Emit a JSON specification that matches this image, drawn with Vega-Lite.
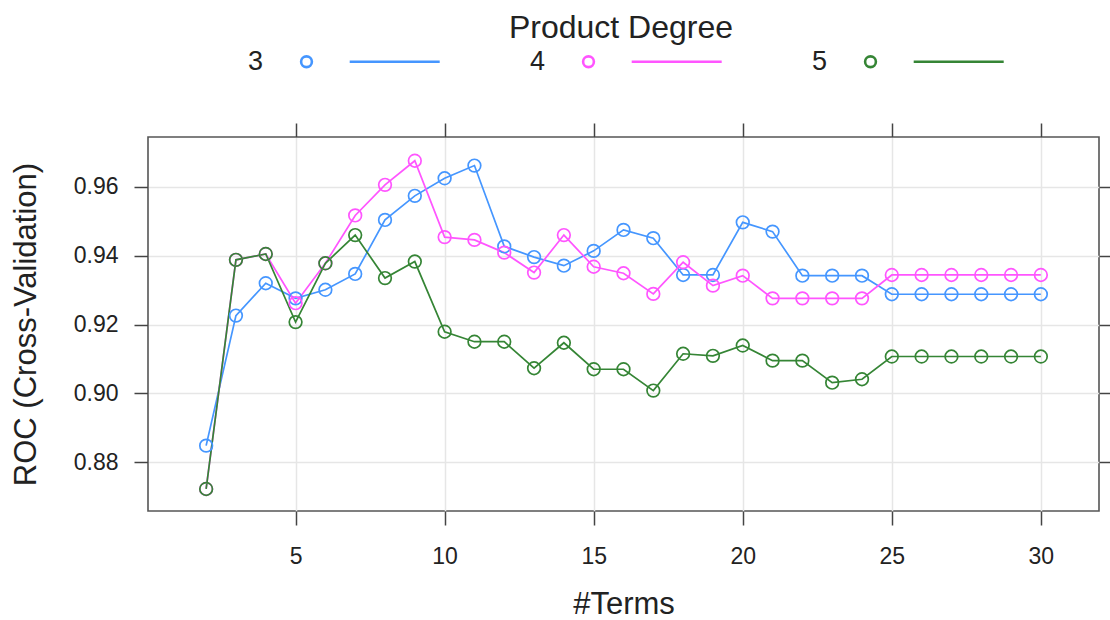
{
  "$schema": "https://vega.github.io/schema/vega-lite/v6.json",
  "width": 951,
  "height": 374,
  "autosize": {"type": "none"},
  "padding": {"left": 148, "top": 137, "right": 11, "bottom": 109},
  "background": "white",
  "config": {
    "view": {"stroke": "#555555", "strokeWidth": 1.6},
    "font": "Liberation Sans",
    "axis": {"labelColor": "#222222", "titleColor": "#222222", "titleFontWeight": "normal"},
    "legend": {"labelColor": "#222222", "titleColor": "#222222"}
  },
  "data": {
    "values": [
      {"terms": 2, "degree": "3", "roc": 0.8848},
      {"terms": 3, "degree": "3", "roc": 0.9226},
      {"terms": 4, "degree": "3", "roc": 0.9320},
      {"terms": 5, "degree": "3", "roc": 0.9276},
      {"terms": 6, "degree": "3", "roc": 0.9301},
      {"terms": 7, "degree": "3", "roc": 0.9347},
      {"terms": 8, "degree": "3", "roc": 0.9504},
      {"terms": 9, "degree": "3", "roc": 0.9574},
      {"terms": 10, "degree": "3", "roc": 0.9625},
      {"terms": 11, "degree": "3", "roc": 0.9662},
      {"terms": 12, "degree": "3", "roc": 0.9427},
      {"terms": 13, "degree": "3", "roc": 0.9396},
      {"terms": 14, "degree": "3", "roc": 0.9371},
      {"terms": 15, "degree": "3", "roc": 0.9414},
      {"terms": 16, "degree": "3", "roc": 0.9475},
      {"terms": 17, "degree": "3", "roc": 0.9451},
      {"terms": 18, "degree": "3", "roc": 0.9344},
      {"terms": 19, "degree": "3", "roc": 0.9344},
      {"terms": 20, "degree": "3", "roc": 0.9497},
      {"terms": 21, "degree": "3", "roc": 0.9470},
      {"terms": 22, "degree": "3", "roc": 0.9342},
      {"terms": 23, "degree": "3", "roc": 0.9342},
      {"terms": 24, "degree": "3", "roc": 0.9342},
      {"terms": 25, "degree": "3", "roc": 0.9288},
      {"terms": 26, "degree": "3", "roc": 0.9288},
      {"terms": 27, "degree": "3", "roc": 0.9288},
      {"terms": 28, "degree": "3", "roc": 0.9288},
      {"terms": 29, "degree": "3", "roc": 0.9288},
      {"terms": 30, "degree": "3", "roc": 0.9288},
      {"terms": 2, "degree": "4", "roc": 0.8722},
      {"terms": 3, "degree": "4", "roc": 0.9388},
      {"terms": 4, "degree": "4", "roc": 0.9405},
      {"terms": 5, "degree": "4", "roc": 0.9262},
      {"terms": 6, "degree": "4", "roc": 0.9378},
      {"terms": 7, "degree": "4", "roc": 0.9517},
      {"terms": 8, "degree": "4", "roc": 0.9606},
      {"terms": 9, "degree": "4", "roc": 0.9676},
      {"terms": 10, "degree": "4", "roc": 0.9454},
      {"terms": 11, "degree": "4", "roc": 0.9446},
      {"terms": 12, "degree": "4", "roc": 0.9409},
      {"terms": 13, "degree": "4", "roc": 0.9351},
      {"terms": 14, "degree": "4", "roc": 0.9460},
      {"terms": 15, "degree": "4", "roc": 0.9368},
      {"terms": 16, "degree": "4", "roc": 0.9349},
      {"terms": 17, "degree": "4", "roc": 0.9289},
      {"terms": 18, "degree": "4", "roc": 0.9381},
      {"terms": 19, "degree": "4", "roc": 0.9313},
      {"terms": 20, "degree": "4", "roc": 0.9342},
      {"terms": 21, "degree": "4", "roc": 0.9276},
      {"terms": 22, "degree": "4", "roc": 0.9276},
      {"terms": 23, "degree": "4", "roc": 0.9276},
      {"terms": 24, "degree": "4", "roc": 0.9276},
      {"terms": 25, "degree": "4", "roc": 0.9344},
      {"terms": 26, "degree": "4", "roc": 0.9344},
      {"terms": 27, "degree": "4", "roc": 0.9344},
      {"terms": 28, "degree": "4", "roc": 0.9344},
      {"terms": 29, "degree": "4", "roc": 0.9344},
      {"terms": 30, "degree": "4", "roc": 0.9344},
      {"terms": 2, "degree": "5", "roc": 0.8722},
      {"terms": 3, "degree": "5", "roc": 0.9388},
      {"terms": 4, "degree": "5", "roc": 0.9405},
      {"terms": 5, "degree": "5", "roc": 0.9207},
      {"terms": 6, "degree": "5", "roc": 0.9378},
      {"terms": 7, "degree": "5", "roc": 0.9460},
      {"terms": 8, "degree": "5", "roc": 0.9335},
      {"terms": 9, "degree": "5", "roc": 0.9383},
      {"terms": 10, "degree": "5", "roc": 0.9179},
      {"terms": 11, "degree": "5", "roc": 0.9150},
      {"terms": 12, "degree": "5", "roc": 0.9150},
      {"terms": 13, "degree": "5", "roc": 0.9073},
      {"terms": 14, "degree": "5", "roc": 0.9147},
      {"terms": 15, "degree": "5", "roc": 0.9070},
      {"terms": 16, "degree": "5", "roc": 0.9070},
      {"terms": 17, "degree": "5", "roc": 0.9008},
      {"terms": 18, "degree": "5", "roc": 0.9115},
      {"terms": 19, "degree": "5", "roc": 0.9109},
      {"terms": 20, "degree": "5", "roc": 0.9139},
      {"terms": 21, "degree": "5", "roc": 0.9095},
      {"terms": 22, "degree": "5", "roc": 0.9095},
      {"terms": 23, "degree": "5", "roc": 0.9031},
      {"terms": 24, "degree": "5", "roc": 0.9041},
      {"terms": 25, "degree": "5", "roc": 0.9107},
      {"terms": 26, "degree": "5", "roc": 0.9107},
      {"terms": 27, "degree": "5", "roc": 0.9107},
      {"terms": 28, "degree": "5", "roc": 0.9107},
      {"terms": 29, "degree": "5", "roc": 0.9107},
      {"terms": 30, "degree": "5", "roc": 0.9107}
    ]
  },
  "encoding": {
    "color": {
      "field": "degree",
      "type": "nominal",
      "scale": {"domain": ["3", "4", "5"], "range": ["#4596ff", "#ff55ff", "#358535"]},
      "legend": {
        "orient": "none",
        "legendX": 85,
        "legendY": -124,
        "direction": "horizontal",
        "title": "Product Degree",
        "titleFontSize": 32,
        "titleFontWeight": "normal",
        "titleAnchor": "middle",
        "titleLimit": 600,
        "titlePadding": 3,
        "labelFontSize": 27,
        "labelAlign": "left",
        "labelOffset": -12,
        "symbolType": "M 9.1 0 A 0.9 0.9 0 1 0 10.9 0 A 0.9 0.9 0 1 0 9.1 0 Z M 17.2 0 L 32.2 0",
        "symbolSize": 144,
        "symbolStrokeWidth": 2.6,
        "symbolFillColor": "transparent",
        "columnPadding": 70,
        "padding": 0
      }
    }
  },
  "layer": [
    {
      "mark": {"type": "line", "strokeWidth": 1.7},
      "encoding": {
        "x": {
          "field": "terms", "type": "quantitative",
          "scale": {"domain": [0.05, 31.95], "nice": false, "zero": false},
          "axis": {
            "orient": "bottom", "title": "#Terms", "values": [5, 10, 15, 20, 25, 30],
            "domain": false, "tickSize": 14, "tickWidth": 1.5, "tickColor": "#444444",
            "labelFontSize": 23, "labelPadding": 20, "titleFontSize": 31, "titlePadding": 21,
            "grid": true, "gridColor": "#e6e6e6", "gridWidth": 1.5
          }
        },
        "y": {
          "field": "roc", "type": "quantitative",
          "scale": {"domain": [0.8658, 0.9745], "nice": false, "zero": false},
          "axis": {
            "orient": "left", "title": "ROC (Cross-Validation)", "values": [0.88, 0.9, 0.92, 0.94, 0.96],
            "format": ".2f", "domain": false, "tickSize": 14, "tickWidth": 1.5, "tickColor": "#444444",
            "labelFontSize": 23, "labelPadding": 16, "titleFontSize": 31, "titlePadding": 31,
            "grid": true, "gridColor": "#e6e6e6", "gridWidth": 1.5
          }
        }
      }
    },
    {
      "mark": {"type": "point", "shape": "circle", "filled": false, "size": 160, "strokeWidth": 1.7, "opacity": 1},
      "encoding": {
        "x": {
          "field": "terms", "type": "quantitative",
          "axis": {
            "orient": "top", "title": null, "values": [5, 10, 15, 20, 25, 30], "labels": false,
            "domain": false, "tickSize": 14, "tickWidth": 1.5, "tickColor": "#444444", "grid": false
          }
        },
        "y": {
          "field": "roc", "type": "quantitative",
          "axis": {
            "orient": "right", "title": null, "values": [0.88, 0.9, 0.92, 0.94, 0.96], "labels": false,
            "domain": false, "tickSize": 14, "tickWidth": 1.5, "tickColor": "#444444", "grid": false
          }
        }
      }
    }
  ],
  "resolve": {"axis": {"x": "independent", "y": "independent"}}
}
